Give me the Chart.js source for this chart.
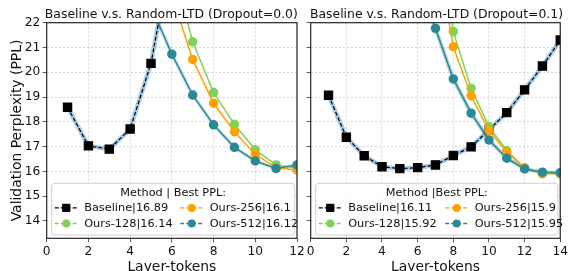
<!DOCTYPE html>
<html lang="en">
<head>
<meta charset="UTF-8">
<title>Baseline v.s. Random-LTD</title>
<script src="https://cdn.jsdelivr.net/npm/chart.js"></script>
<style>
  html, body { margin: 0; padding: 0; background: #fff; overflow: hidden; }
  #wrap { position: relative; width: 570px; height: 271px; overflow: hidden; }
  .panel { position: absolute; top: 0; }
</style>
</head>
<body>
<div id="wrap">
  <div class="panel" style="left:0px"><canvas id="left-chart" width="310" height="280"></canvas></div>
  <div class="panel" style="left:300px"><canvas id="right-chart" width="270" height="280"></canvas></div>
</div>
<script>
// values
const yTicks = [14, 15, 16, 17, 18, 19, 20, 21, 22];

// Dropout = 0.0
const leftLayers   = [1, 2, 3, 4, 5, 6, 7, 8, 9, 10, 11, 12];
const leftBaseline = [18.59, 17.03, 16.9, 17.71, 20.36, 24.9, null, null, null, null, null, null];
const leftOurs128  = [null, null, null, null, null, 24.4, 21.23, 19.18, 17.9, 16.87, 16.26, 16.14];
const leftOurs256  = [null, null, null, null, null, 23.1, 20.52, 18.75, 17.6, 16.69, 16.15, 16.06];
const leftOurs512  = [null, null, null, null, 22.66, 20.73, 19.08, 17.88, 16.97, 16.42, 16.12, 16.26];
const leftLabels   = ['Baseline|16.89', 'Ours-128|16.14', 'Ours-256|16.1', 'Ours-512|16.12'];

// Dropout = 0.1
const rightLayers   = [1, 2, 3, 4, 5, 6, 7, 8, 9, 10, 11, 12, 13, 14];
const rightBaseline = [19.07, 17.38, 16.63, 16.19, 16.11, 16.15, 16.26, 16.64, 16.99, 17.68, 18.37, 19.29, 20.25, 21.3];
const rightOurs128  = [null, null, null, null, null, null, 26.0, 21.64, 19.35, 17.8, 16.84, 16.15, 15.93, 15.92];
const rightOurs256  = [null, null, null, null, null, null, 25.2, 21.03, 19.05, 17.65, 16.77, 16.13, 15.9, 15.9];
const rightOurs512  = [null, null, null, null, null, 23.8, 21.77, 19.73, 18.35, 17.27, 16.53, 16.1, 15.97, 15.95];
const rightLabels   = ['Baseline|16.11', 'Ours-128|15.92', 'Ours-256|15.9', 'Ours-512|15.95'];

const FONT = 'DejaVu Sans';
const GREEN = '#7fd35a', ORANGE = '#ffa200', TEAL = '#2a8995';

function pts(xs, ys) {
    return xs.map((x, i) => ({x: x, y: ys[i]}));
}

function makeDatasets(xs, base, o128, o256, o512, labels, tealBand) {
    return [
        // light band behind baseline (and teal)
        { data: pts(xs, base), borderColor: 'rgba(95,160,215,0.55)', borderWidth: 4.5, pointRadius: 0, order: 9 },
        { data: pts(xs, o512), borderColor: 'rgba(42,137,149,' + tealBand + ')', borderWidth: 4, pointRadius: 0, order: 8 },
        { label: labels[0], inLegend: true, data: pts(xs, base), borderColor: '#000', backgroundColor: '#000',
          borderWidth: 1.2, borderDash: [4, 2], pointStyle: 'rect', pointRadius: 5.8, order: 5 },
        { label: labels[1], inLegend: true, data: pts(xs, o128), borderColor: GREEN, backgroundColor: GREEN,
          borderWidth: 1.5, pointStyle: 'circle', pointRadius: 4, order: 4 },
        { label: labels[2], inLegend: true, data: pts(xs, o256), borderColor: ORANGE, backgroundColor: ORANGE,
          borderWidth: 1.5, pointStyle: 'circle', pointRadius: 4, order: 3 },
        { label: labels[3], inLegend: true, data: pts(xs, o512), borderColor: TEAL, backgroundColor: TEAL,
          borderWidth: 1.5, pointStyle: 'circle', pointRadius: 4, order: 2 }
    ];
}

// panel title, boxed two-column legend and frame
const panelDeco = {
    id: 'panelDeco',
    afterDatasetsDraw(chart, args, opts) {
        const ctx = chart.ctx, a = chart.chartArea;
        const left = a.left + 5, right = a.right - 2.3;
        const bottom = a.bottom - 3.3, top = bottom - 51.7;
        ctx.save();
        ctx.beginPath();
        ctx.roundRect(left, top, right - left, bottom - top, 3);
        ctx.fillStyle = 'rgba(255,255,255,0.85)';
        ctx.fill();
        ctx.strokeStyle = '#cfcfcf';
        ctx.lineWidth = 1;
        ctx.stroke();

        ctx.font = '11.3px "' + FONT + '"';
        ctx.fillStyle = '#111';
        ctx.textAlign = 'center';
        ctx.textBaseline = 'middle';
        ctx.fillText(opts.legendTitle, (left + right) / 2, top + 9.5);

        const items = chart.data.datasets.filter(d => d.inLegend);
        items.forEach((d, i) => {
            const col = Math.floor(i / 2), row = i % 2;
            const cx = left + col * opts.colGap;
            const cy = top + 24.6 + row * 15.6;
            ctx.setLineDash([4, 2]);
            ctx.strokeStyle = d.borderColor;
            ctx.lineWidth = 1.3;
            ctx.beginPath();
            ctx.moveTo(cx + 3, cy);
            ctx.lineTo(cx + 26, cy);
            ctx.stroke();
            ctx.setLineDash([]);
            ctx.fillStyle = d.backgroundColor;
            ctx.beginPath();
            if (d.pointStyle === 'rect') {
                ctx.rect(cx + 14.5 - 4.1, cy - 4.1, 8.2, 8.2);
            } else {
                ctx.arc(cx + 14.5, cy, 4, 0, Math.PI * 2);
            }
            ctx.fill();
            ctx.fillStyle = '#111';
            ctx.textAlign = 'left';
            ctx.fillText(d.label, cx + 32.5, cy + 0.5);
        });
        ctx.restore();
    },
    afterDraw(chart, args, opts) {
        const ctx = chart.ctx, a = chart.chartArea;
        ctx.save();
        ctx.strokeStyle = '#262626';
        ctx.lineWidth = 1.2;
        ctx.strokeRect(a.left, a.top, a.right - a.left, a.bottom - a.top);
        // title centred over the plot, not squeezed to its width
        ctx.font = '12.4px "' + FONT + '"';
        ctx.fillStyle = '#111';
        ctx.textAlign = 'center';
        ctx.textBaseline = 'alphabetic';
        ctx.fillText(opts.title, (a.left + a.right) / 2 + opts.titleShift, 18.3);
        ctx.restore();
    }
};

function makeChart(id, xs, datasets, xMax, opts) {
    const ctx = document.getElementById(id).getContext('2d');
    return new Chart(ctx, {
        type: 'line',
        data: { datasets: datasets },
        plugins: [panelDeco],
        options: {
            responsive: false,
            animation: false,
            events: [],
            clip: 0,
            layout: { padding: { top: 22.7, right: opts.padRight, bottom: 0, left: 0 } },
            plugins: {
                legend: { display: false },
                tooltip: { enabled: false },
                title: { display: false },
                panelDeco: { title: opts.title, titleShift: opts.titleShift,
                             legendTitle: opts.legendTitle, colGap: opts.colGap }
            },
            scales: {
                x: {
                    type: 'linear',
                    min: 0,
                    max: xMax,
                    ticks: { stepSize: 2, color: '#111', padding: 2, font: { family: FONT, size: 12.2 } },
                    grid: { color: 'rgba(0,0,0,0.2)', lineWidth: 0.8, tickColor: '#333', tickLength: 4 },
                    border: { display: false, dash: [2, 2] },
                    title: {
                        display: true,
                        text: 'Layer-tokens',
                        color: '#111',
                        font: { family: FONT, size: 13.9 },
                        padding: { top: 0, bottom: 4.5 }
                    },
                    afterFit: s => { s.height = 280 - 238.3; }
                },
                y: {
                    min: 13.3,
                    max: 22,
                    afterBuildTicks: s => { s.ticks = yTicks.map(v => ({ value: v })); },
                    ticks: { display: opts.yLabels, color: '#111', padding: 2.5, font: { family: FONT, size: 12.2 } },
                    grid: { color: 'rgba(0,0,0,0.2)', lineWidth: 0.8, tickColor: '#333', tickLength: 4 },
                    border: { display: false, dash: [2, 2] },
                    title: {
                        display: opts.yLabels,
                        text: 'Validation Perplexity (PPL)',
                        color: '#111',
                        font: { family: FONT, size: 13.9 },
                        padding: { top: 9.5, bottom: 0 }
                    },
                    afterFit: s => { s.width = opts.yWidth; }
                }
            }
        }
    });
}

makeChart('left-chart', leftLayers,
    makeDatasets(leftLayers, leftBaseline, leftOurs128, leftOurs256, leftOurs512, leftLabels, 0.2), 12,
    { title: 'Baseline v.s. Random-LTD (Dropout=0.0)', titleShift: -0.5, legendTitle: 'Method | Best PPL:',
      padRight: 13, yWidth: 46.7, yLabels: true, colGap: 125.5 });

makeChart('right-chart', rightLayers,
    makeDatasets(rightLayers, rightBaseline, rightOurs128, rightOurs256, rightOurs512, rightLabels, 0.35), 14,
    { title: 'Baseline v.s. Random-LTD (Dropout=0.1)', titleShift: 1, legendTitle: 'Method |Best PPL:',
      padRight: 8.3, yWidth: 10.7, yLabels: false, colGap: 126.5 });
</script>
</body>
</html>
